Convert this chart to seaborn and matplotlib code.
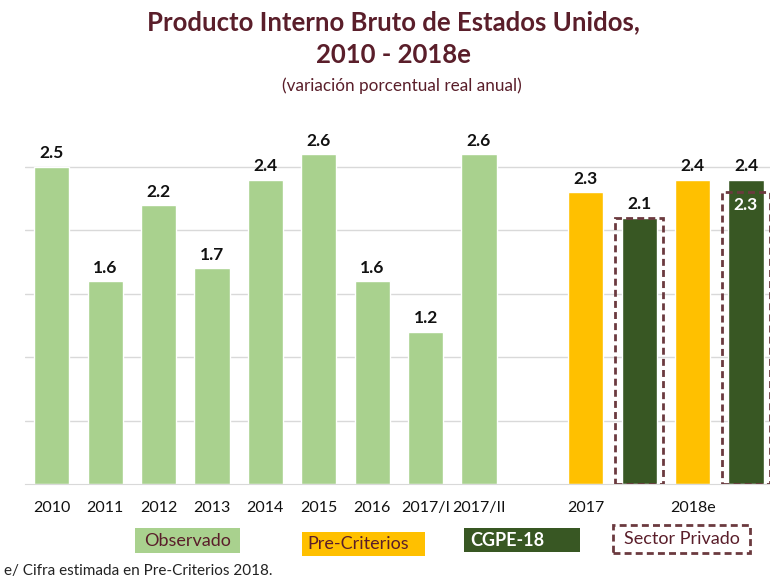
import matplotlib
matplotlib.use('Agg')
import numpy as np
import pandas as pd
import matplotlib.pyplot as plt
import seaborn as sns
from matplotlib.patches import Rectangle

# datos observados
obs_labels = ["2010", "2011", "2012", "2013", "2014", "2015", "2016", "2017/I", "2017/II"]
obs_values = [2.5, 1.6, 2.2, 1.7, 2.4, 2.6, 1.6, 1.2, 2.6]

# estimaciones
est_years = ["2017", "2018e"]
precriterios = [2.3, 2.4]
cgpe = [2.1, 2.4]
sector_privado = [2.1, 2.3]

grid_ticks = [0.5, 1.0, 1.5, 2.0, 2.5]

c_obs = '#a9d18e'
c_pc = '#ffc000'
c_cgpe = '#385723'
c_sp = '#6b3a3f'
c_title = '#5a1e2a'

sns.set_style('white')
plt.rcParams['font.family'] = ['Lato', 'DejaVu Sans']

rows = []
for lab, v in zip(obs_labels, obs_values):
    rows.append((lab, v, 'Observado'))
for yr, pc, cg in zip(est_years, precriterios, cgpe):
    rows.append((yr + ' PC', pc, 'Pre-Criterios'))
    rows.append((yr + ' CGPE', cg, 'CGPE-18'))
df = pd.DataFrame(rows, columns=['slot', 'valor', 'serie'])

order = obs_labels + ['gap']
for yr in est_years:
    order += [yr + ' PC', yr + ' CGPE']

fig = plt.figure(figsize=(7.7, 5.82), dpi=100)
ax = fig.add_axes([0.0325, 0.1684, 0.9675, 0.6426])

sns.barplot(data=df, x='slot', y='valor', hue='serie', order=order,
            palette={'Observado': c_obs, 'Pre-Criterios': c_pc, 'CGPE-18': c_cgpe},
            dodge=False, width=0.66, saturation=1, legend=False, ax=ax)

# recuadros del sector privado
sp_pos = [order.index(yr + ' CGPE') for yr in est_years]
ax.bar(sp_pos, sector_privado, width=0.9, fill=False, edgecolor=c_sp,
       linestyle=(0, (2.5, 1.5)), linewidth=2, zorder=4)

# etiquetas de valores
for _, r in df.iterrows():
    x = order.index(r['slot'])
    top = r['valor']
    if r['serie'] == 'CGPE-18':
        top = max(top, sector_privado[est_years.index(r['slot'].split(' ')[0])])
    ax.annotate(f"{r['valor']:.1f}", (x, top), xytext=(0, 4), textcoords='offset points',
                ha='center', va='bottom', fontsize=12.5, fontweight='bold', color='#111111')
for x, sp, cg in zip(sp_pos, sector_privado, cgpe):
    if sp < cg:
        ax.annotate(f"{sp:.1f}", (x, sp), xytext=(0, -3), textcoords='offset points',
                    ha='center', va='top', fontsize=12.5, fontweight='bold', color='white')

ax.set_xlim(-0.5, 13.45)
ax.set_ylim(0, 2.95)
ax.set_yticks(grid_ticks)
ax.yaxis.grid(True, color='#d9d9d9', linewidth=1)
ax.set_axisbelow(True)
ax.tick_params(axis='y', length=0, labelleft=False)

xt_labels = obs_labels + [''] + ['2017', '', '2018e', '']
ax.set_xticks(range(len(order)))
ax.set_xticklabels(xt_labels, fontsize=11.5, color='#111111')
ax.tick_params(axis='x', length=0, pad=12)
ax.set_xlabel('')
ax.set_ylabel('')
for s in ['top', 'left', 'right']:
    ax.spines[s].set_visible(False)
ax.spines['bottom'].set_color('#d9d9d9')

# titulos
fig.text(0.511, 1 - 22 / 582, 'Producto Interno Bruto de Estados Unidos,', ha='center', va='center',
         fontsize=18.5, fontweight='bold', color=c_title)
fig.text(0.511, 1 - 55 / 582, '2010 - 2018e', ha='center', va='center',
         fontsize=18.5, fontweight='bold', color=c_title)
fig.text(0.522, 1 - 86 / 582, '(variación porcentual real anual)', ha='center', va='center',
         fontsize=12.3, color=c_title)


# leyenda manual
def legend_box(x0, y0, x1, y1, face, label, tcolor, bold=False, dashed=False, tx=None):
    if dashed:
        rect = Rectangle((x0 / 770, 1 - y1 / 582), (x1 - x0) / 770, (y1 - y0) / 582,
                         transform=fig.transFigure, fill=False, edgecolor=c_sp,
                         linestyle=(0, (2.5, 1.5)), linewidth=2)
    else:
        rect = Rectangle((x0 / 770, 1 - y1 / 582), (x1 - x0) / 770, (y1 - y0) / 582,
                         transform=fig.transFigure, facecolor=face, edgecolor='none')
    fig.add_artist(rect)
    cx = (x0 + x1) / 2 if tx is None else tx
    fig.text(cx / 770, 1 - (y0 + y1) / 2 / 582, label, ha='center', va='center',
             fontsize=13, color=tcolor, fontweight='bold' if bold else 'normal')


legend_box(135, 528, 240, 553, c_obs, 'Observado', c_title)
legend_box(302, 532, 425, 556, c_pc, 'Pre-Criterios', c_title, tx=358)
legend_box(464, 528, 580, 552, c_cgpe, 'CGPE-18', 'white', bold=True, tx=507)
legend_box(613, 525, 750, 553, None, 'Sector Privado', c_title, dashed=True)

fig.text(4 / 770, 1 - 571 / 582, 'e/ Cifra estimada en Pre-Criterios 2018.', ha='left', va='center',
         fontsize=11, color='#222222')

fig.savefig('out.png', dpi=100)
